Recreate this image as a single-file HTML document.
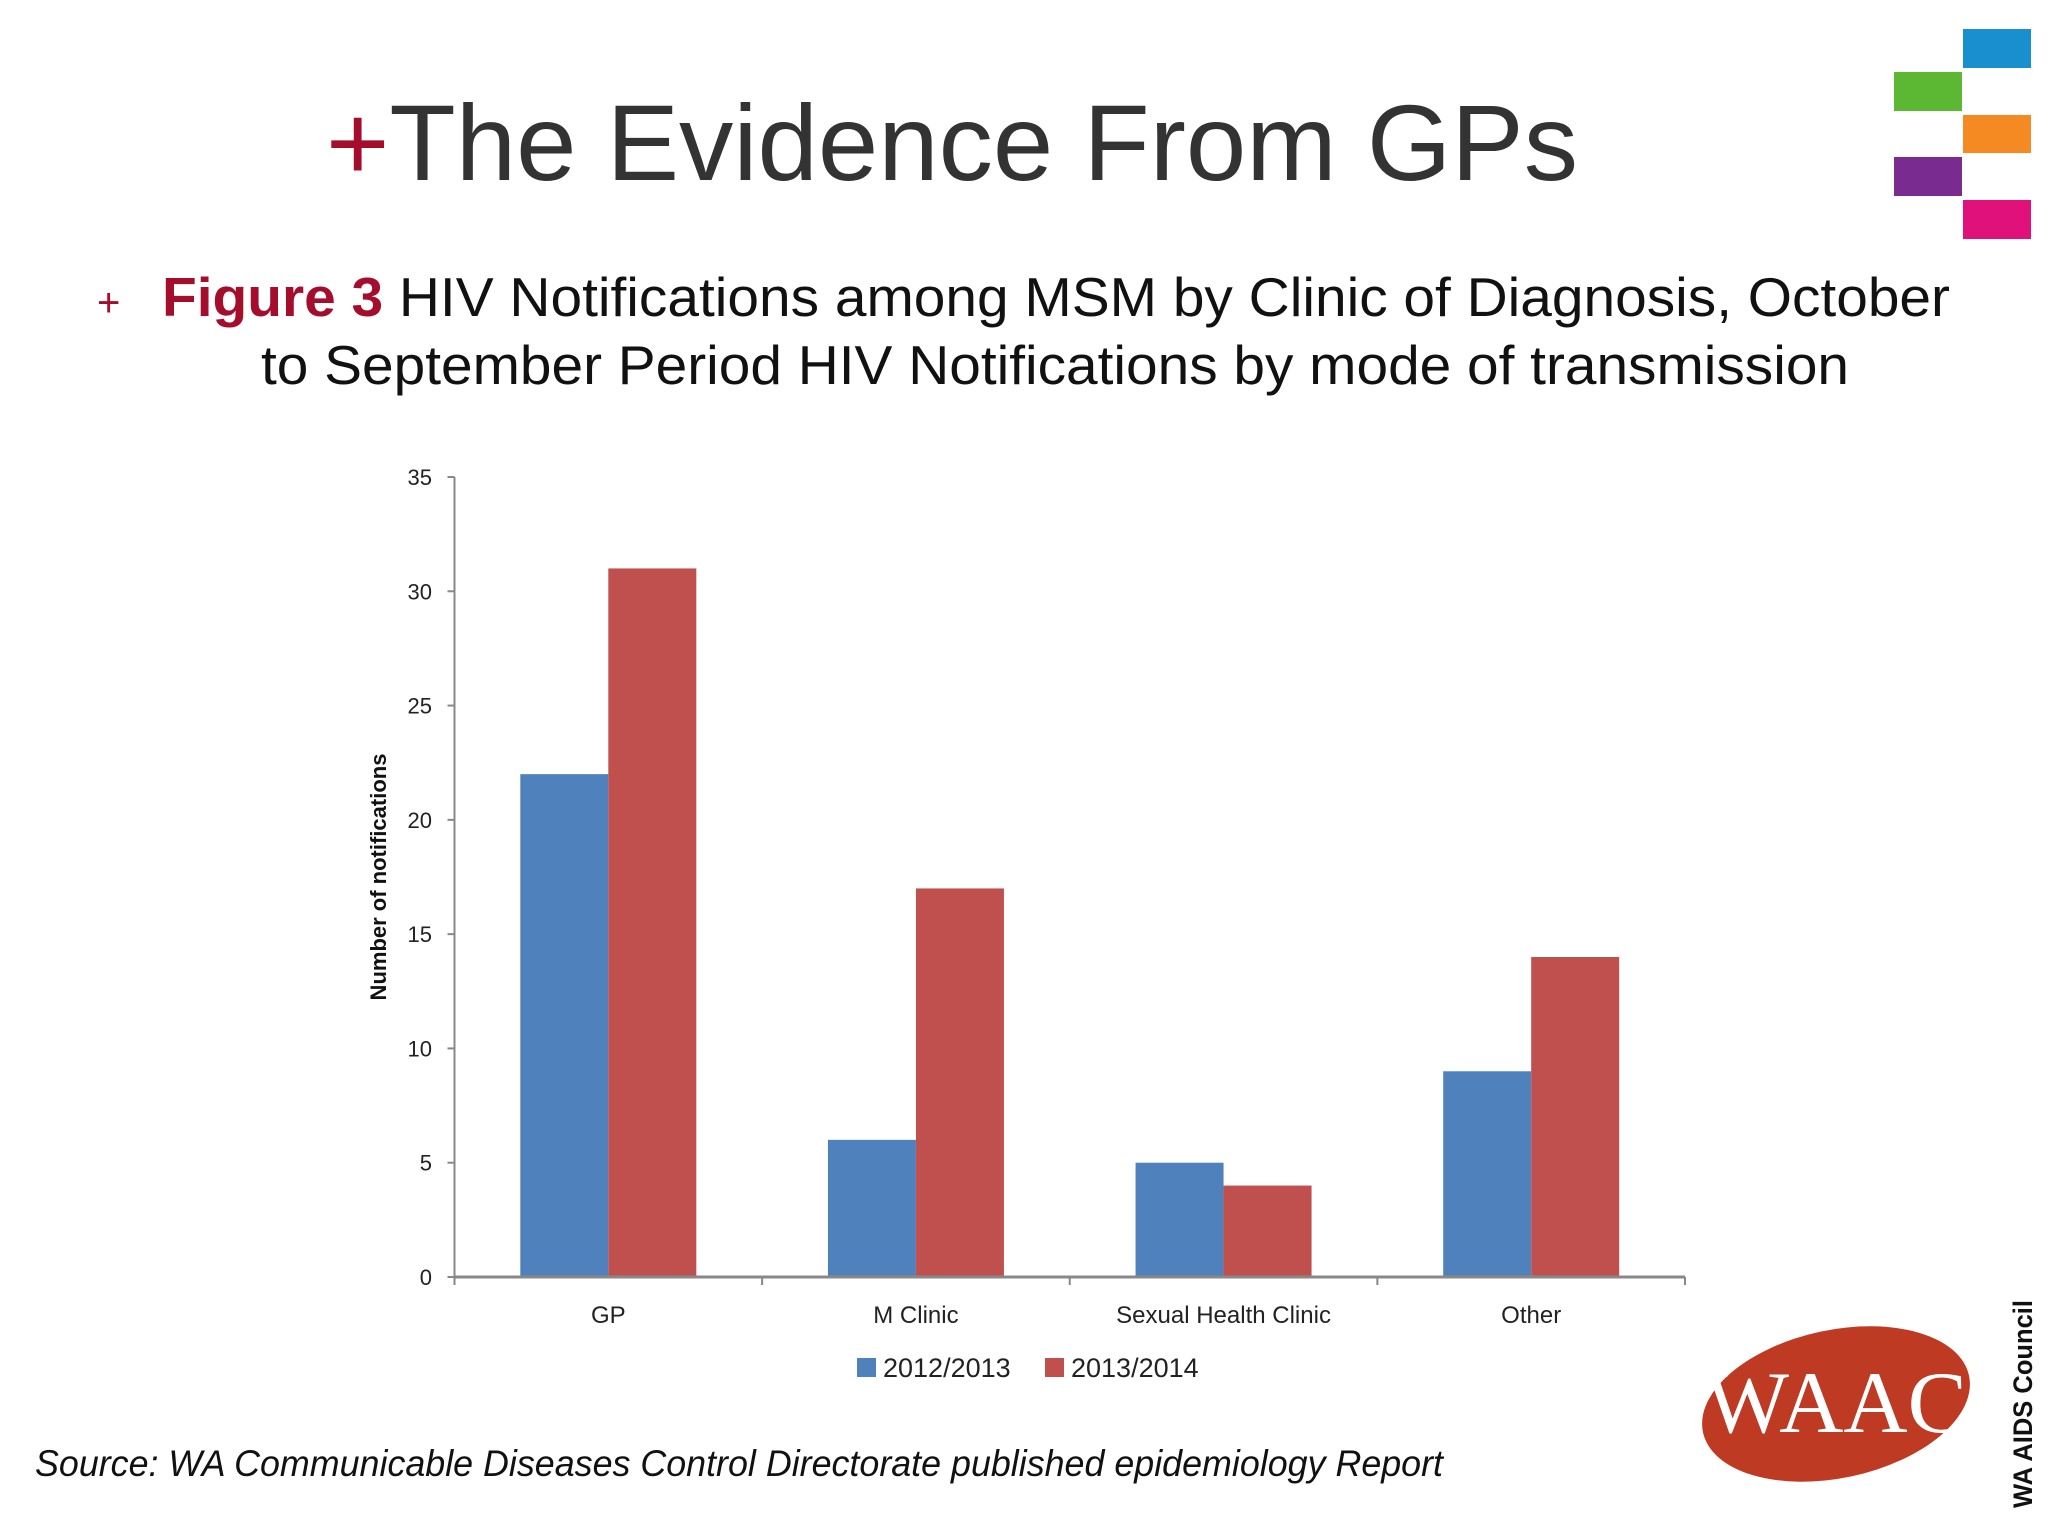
<!DOCTYPE html>
<html><head><meta charset="utf-8"><style>html,body{margin:0;padding:0;background:#fff}svg{display:block}</style></head>
<body>
<svg id="chart" width="2048" height="1536" viewBox="0 0 2048 1536" xmlns="http://www.w3.org/2000/svg" font-family="'Liberation Sans', sans-serif">
<rect x="0" y="0" width="2048" height="1536" fill="#fff"/>
<text x="326" y="180" font-size="108" fill="#333" textLength="1252" lengthAdjust="spacingAndGlyphs"><tspan fill="#a50d2d">+</tspan>The Evidence From GPs</text>
<g>
<rect x="1963" y="29" width="68" height="39" fill="#1a8fd0"/>
<rect x="1894" y="72" width="68" height="39" fill="#5cb833"/>
<rect x="1963" y="115" width="68" height="38" fill="#f58a22"/>
<rect x="1894" y="157" width="68" height="39" fill="#7a2b8f"/>
<rect x="1963" y="200" width="68" height="39" fill="#e0117a"/>
</g>
<text x="97" y="316" font-size="40" fill="#a50d2d">+</text>
<text x="162" y="316" font-size="55" fill="#111" textLength="1788" lengthAdjust="spacingAndGlyphs"><tspan fill="#a50d2d" font-weight="bold">Figure 3</tspan> HIV Notifications among MSM by Clinic of Diagnosis, October</text>
<text x="261" y="384" font-size="55" fill="#111" textLength="1588" lengthAdjust="spacingAndGlyphs">to September Period HIV Notifications by mode of transmission</text>
<g id="plot"></g>
<text x="35" y="1476" font-size="37" font-style="italic" fill="#111" textLength="1408" lengthAdjust="spacingAndGlyphs">Source: WA Communicable Diseases Control Directorate published epidemiology Report</text>
<g>
<ellipse cx="1836" cy="1404" rx="136" ry="74" transform="rotate(-12 1836 1404)" fill="#bf3a22"/>
<text x="1836" y="1432" font-size="88" font-family="'Liberation Serif', serif" fill="#fff" text-anchor="middle" textLength="262" lengthAdjust="spacingAndGlyphs">WAAC</text>
<text transform="translate(2032 1508) rotate(-90)" font-size="27" font-weight="bold" fill="#111" textLength="208" lengthAdjust="spacingAndGlyphs">WA AIDS Council</text>
</g>
</svg>
<script>
const categories = ["GP", "M Clinic", "Sexual Health Clinic", "Other"];
const series2012 = [22, 6, 5, 9];
const series2013 = [31, 17, 4, 14];
const seriesNames = ["2012/2013", "2013/2014"];
const yTicks = [0, 5, 10, 15, 20, 25, 30, 35];

const NS = "http://www.w3.org/2000/svg";
const g = document.getElementById("plot");
const X0 = 454.5, X1 = 1685, Y0 = 1277, Ytop = 477, YMAX = 35;
const bw = (X1 - X0) / categories.length;
const barW = 88;
function yScale(v) { return Y0 - (v / YMAX) * (Y0 - Ytop); }
function xCenter(i) { return X0 + bw * (i + 0.5); }
function mk(tag, attrs, parent) {
  const e = document.createElementNS(NS, tag);
  for (const k in attrs) e.setAttribute(k, attrs[k]);
  (parent || g).appendChild(e);
  return e;
}
const colors = ["#4f81bd", "#c0504d"];
// y axis
let ax = mk("line", {x1: X0, y1: Ytop, x2: X0, y2: Y0 + 6, stroke: "#888", "stroke-width": 2});


yTicks.forEach(t => {
  const y = yScale(t);
  const tk = mk("line", {x1: X0 - 7, y1: y, x2: X0, y2: y, stroke: "#888", "stroke-width": 2});
  
  
  const lb = mk("text", {x: 432, y: y + 8, "font-size": 22, "text-anchor": "end", fill: "#222"});
  lb.textContent = t;
  
  
});
// bars
categories.forEach((c, i) => {
  const cx = xCenter(i);
  [series2012, series2013].forEach((s, j) => {
    const y = yScale(s[i]);
    const r = mk("rect", {x: cx - barW + j * barW, y: y, width: barW, height: Y0 - y, fill: colors[j]});
    
    
  });
  const lb = mk("text", {x: cx, y: 1323, "font-size": 24, "text-anchor": "middle", fill: "#222"});
  lb.textContent = c;
  
  
});
// x axis
let xa = mk("line", {x1: X0, y1: Y0, x2: X1, y2: Y0, stroke: "#888", "stroke-width": 3});


for (let i = 0; i <= categories.length; i++) {
  const x = X0 + bw * i;
  const tk = mk("line", {x1: x, y1: Y0, x2: x, y2: Y0 + 8, stroke: "#888", "stroke-width": 2});
  
  
}
// y title
const yt = mk("text", {transform: "translate(386 877) rotate(-90)", "font-size": 22, "font-weight": "bold", "text-anchor": "middle", fill: "#111"});
yt.textContent = "Number of notifications";


// legend
const legX = [857, 1045];
seriesNames.forEach((n, j) => {
  const sw = mk("rect", {x: legX[j], y: 1358, width: 19, height: 19, fill: colors[j]});
  
  
  const t = mk("text", {x: legX[j] + 26, y: 1377, "font-size": 27, fill: "#222"});
  t.textContent = n;
  
  
});
</script>
</body></html>
